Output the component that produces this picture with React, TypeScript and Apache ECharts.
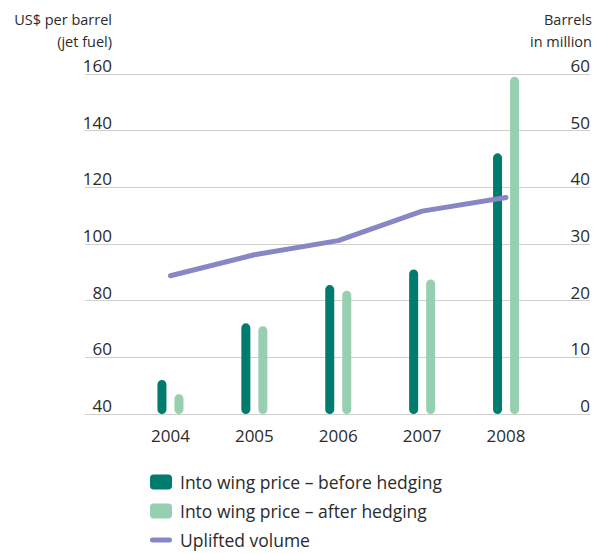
import React, { useEffect, useRef } from "react";
import * as echarts from "echarts";

const years = ["2004", "2005", "2006", "2007", "2008"];
const priceBeforeHedging = [52, 72, 85.5, 91, 132];
const priceAfterHedging = [47, 71, 83.5, 87.5, 159];
const uplifiedVolume = [24.4, 28.1, 30.6, 35.8, 38.2];
const priceTicks = { min: 40, max: 160, interval: 20 };
const volumeTicks = { min: 0, max: 60, interval: 10 };

const FONT = "'Open Sans', Arial, sans-serif";
const TEXT = "#2b2b2b";
const DARK = "#007B6E";
const LIGHT = "#96D0B0";
const PURPLE = "#8886C3";

// rounded stroke used as the legend icon of the volume line
const LINE_ICON = "path://M2.5,0 h17 a2.5,2.5 0 0 1 0,5 h-17 a2.5,2.5 0 0 1 0,-5 z";

export default function App() {
  const ref = useRef<HTMLDivElement>(null);

  useEffect(() => {
    if (!ref.current) return;
    const chart = echarts.init(ref.current, undefined, { renderer: "svg" });
    const top = 74;
    const bottom = 553 - 414;

    chart.setOption({
      animation: false,
      textStyle: { fontFamily: FONT, color: TEXT },
      grid: [
        // grid carrying the gridlines and both value scales
        { left: 85, right: 1, top, bottom },
        // grid carrying the categories, bars and line
        { left: 128.5, right: 45, top, bottom },
      ],
      xAxis: [
        { type: "value", gridIndex: 0, show: false, min: 0, max: 1 },
        {
          type: "category",
          gridIndex: 1,
          data: years,
          axisLine: { show: false },
          axisTick: { show: false },
          axisLabel: { fontSize: 17, color: TEXT, margin: 13, fontFamily: FONT },
        },
      ],
      yAxis: [
        {
          type: "value",
          gridIndex: 0,
          position: "left",
          ...priceTicks,
          axisLine: { show: false },
          axisTick: { show: false },
          splitLine: { lineStyle: { color: "#cfcfcf", width: 1.2 } },
          axisLabel: {
            fontSize: 17,
            color: TEXT,
            align: "right",
            verticalAlign: "bottom",
            margin: -27,
            padding: [0, 0, 0, 0],
            fontFamily: FONT,
          },
        },
        {
          type: "value",
          gridIndex: 0,
          position: "right",
          ...volumeTicks,
          axisLine: { show: false },
          axisTick: { show: false },
          splitLine: { show: false },
          axisLabel: {
            fontSize: 17,
            color: TEXT,
            align: "right",
            verticalAlign: "bottom",
            margin: 0,
            padding: [0, 0, 0, 0],
            fontFamily: FONT,
          },
        },
        { type: "value", gridIndex: 1, show: false, ...priceTicks },
        { type: "value", gridIndex: 1, show: false, ...volumeTicks },
      ],
      legend: {
        orient: "vertical",
        left: 150,
        top: 473,
        height: 120,
        padding: 0,
        itemWidth: 22,
        itemHeight: 15,
        itemGap: 11,
        textStyle: {
          fontSize: 17.5,
          lineHeight: 18,
          color: TEXT,
          fontFamily: FONT,
          padding: [0, 0, 0, 3],
        },
        data: [
          { name: "Into wing price – before hedging", icon: "roundRect" },
          { name: "Into wing price – after hedging", icon: "roundRect" },
          { name: "Uplifted volume", icon: LINE_ICON },
        ],
      },
      graphic: [
        {
          type: "text",
          x: 112,
          y: 8,
          style: {
            text: "US$ per barrel\n(jet fuel)",
            align: "right",
            font: `14.5px ${FONT}`,
            lineHeight: 22,
            fill: TEXT,
          },
        },
        {
          type: "text",
          x: 592,
          y: 8,
          style: {
            text: "Barrels\nin million",
            align: "right",
            font: `14.5px ${FONT}`,
            lineHeight: 22,
            fill: TEXT,
          },
        },
      ],
      series: [
        {
          name: "Into wing price – before hedging",
          type: "bar",
          xAxisIndex: 1,
          yAxisIndex: 2,
          data: priceBeforeHedging,
          barWidth: 9,
          barGap: "89%",
          itemStyle: { color: DARK, borderRadius: 4.5 },
        },
        {
          name: "Into wing price – after hedging",
          type: "bar",
          xAxisIndex: 1,
          yAxisIndex: 2,
          data: priceAfterHedging,
          barWidth: 9,
          barGap: "89%",
          itemStyle: { color: LIGHT, borderRadius: 4.5 },
        },
        {
          name: "Uplifted volume",
          type: "line",
          xAxisIndex: 1,
          yAxisIndex: 3,
          data: uplifiedVolume,
          symbol: "none",
          itemStyle: { color: PURPLE },
          lineStyle: { color: PURPLE, width: 5, cap: "round", join: "round" },
          z: 5,
        },
      ],
    });

    return () => chart.dispose();
  }, []);

  return <div ref={ref} style={{ width: 593, height: 553, position: "absolute", left: 0, top: 0 }} />;
}
